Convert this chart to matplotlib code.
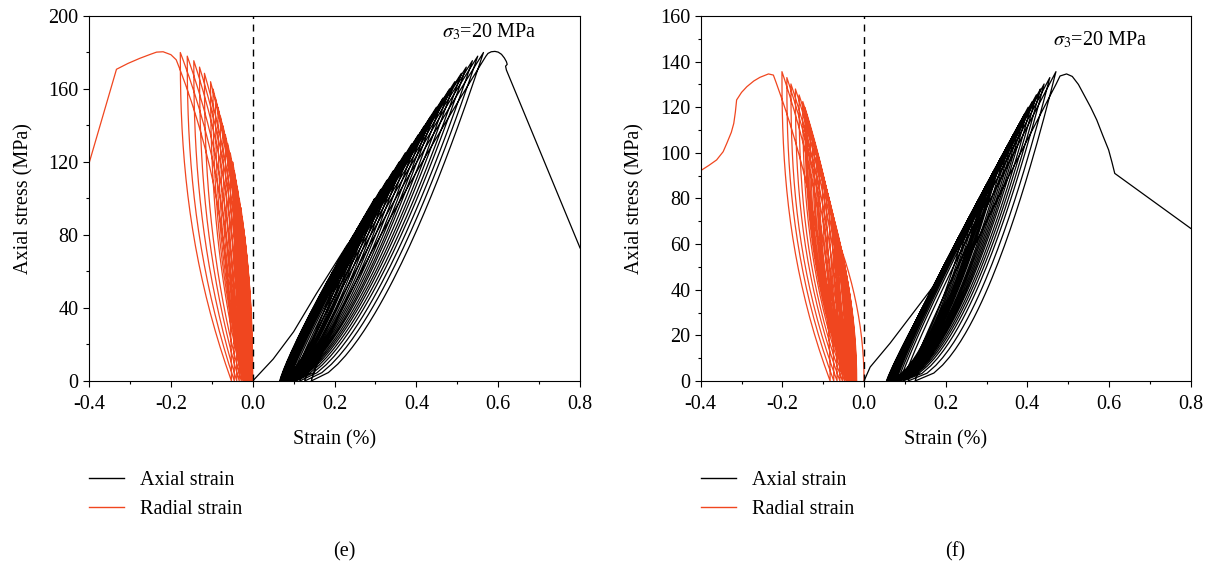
import numpy as np
import matplotlib
matplotlib.use("Agg")
import matplotlib.pyplot as plt
from matplotlib.lines import Line2D

plt.rcParams['font.family'] = ['Liberation Serif', 'DejaVu Serif']
plt.rcParams['mathtext.fontset'] = 'stix'
plt.rcParams['font.size'] = 14.5

RED = '#f0461f'

# ---------------- panel (e) ----------------
# peak of every cycle (stress, MPa)
peak_stress_e = [75, 80, 85, 90, 95, 100, 105, 110, 115, 120, 125, 130,
                 135, 140, 145, 150, 155, 160, 164, 168.6, 172, 175.5, 178, 180]
peak_axial_e = [0.232, 0.246, 0.260, 0.273, 0.286, 0.298, 0.313, 0.328, 0.343, 0.358,
                0.373, 0.389, 0.405, 0.420, 0.435, 0.449, 0.465, 0.481, 0.494, 0.510,
                0.522, 0.537, 0.550, 0.564]
resid_axial_e = [0.066, 0.067, 0.068, 0.069, 0.070, 0.071, 0.072, 0.073, 0.074, 0.075,
                 0.076, 0.077, 0.078, 0.080, 0.082, 0.084, 0.087, 0.090, 0.094, 0.099,
                 0.106, 0.115, 0.127, 0.143]
peak_radial_e = [-0.018, -0.020, -0.023, -0.026, -0.029, -0.033, -0.037, -0.041, -0.045,
                 -0.049, -0.055, -0.061, -0.067, -0.073, -0.079, -0.085, -0.091, -0.097,
                 -0.103, -0.118, -0.130, -0.144, -0.160, -0.177]
resid_radial_e = [-0.001, -0.002, -0.003, -0.004, -0.005, -0.006, -0.007, -0.008, -0.009,
                  -0.010, -0.011, -0.012, -0.013, -0.014, -0.015, -0.017, -0.019, -0.021,
                  -0.024, -0.028, -0.033, -0.039, -0.045, -0.052]
# first loading and post-peak curves
init_axial_e_x = [0.0, 0.05, 0.10, 0.156, 0.232]
init_axial_e_y = [0, 12, 27, 48, 75]
final_axial_e_x = [0.57, 0.575, 0.583, 0.592, 0.600, 0.608, 0.615, 0.620, 0.622, 0.618,
                   0.620, 0.8]
final_axial_e_y = [178, 179.5, 180.4, 180.6, 180.2, 179, 177, 175, 173.5, 172.5,
                   170.4, 72.9]
final_radial_e_x = [-0.187, -0.200, -0.219, -0.235, -0.25, -0.276, -0.305, -0.333, -0.4]
final_radial_e_y = [176, 178.8, 180.4, 180.2, 179, 176.8, 174, 170.8, 119.3]

# ---------------- panel (f) ----------------
peak_stress_f = [62, 66, 70, 74, 78, 82, 85, 88, 92, 95, 98, 102, 105, 108, 111,
                 114, 117, 120, 122.5, 125.4, 128, 130.2, 133, 135.6]
peak_axial_f = [0.240, 0.252, 0.263, 0.274, 0.285, 0.294, 0.302, 0.310, 0.320, 0.328,
                0.336, 0.348, 0.357, 0.366, 0.375, 0.384, 0.393, 0.402, 0.412, 0.422,
                0.432, 0.441, 0.455, 0.470]
resid_axial_f = [0.055, 0.056, 0.057, 0.058, 0.059, 0.060, 0.061, 0.062, 0.063, 0.064,
                 0.065, 0.066, 0.067, 0.068, 0.070, 0.072, 0.074, 0.076, 0.079, 0.083,
                 0.088, 0.096, 0.108, 0.125]
peak_radial_f = [-0.064, -0.069, -0.073, -0.078, -0.085, -0.092, -0.097, -0.102, -0.109,
                 -0.113, -0.117, -0.122, -0.126, -0.131, -0.135, -0.139, -0.142, -0.145,
                 -0.150, -0.159, -0.168, -0.179, -0.189, -0.201]
resid_radial_f = [-0.018, -0.019, -0.020, -0.021, -0.022, -0.023, -0.024, -0.025, -0.026,
                  -0.027, -0.028, -0.030, -0.032, -0.034, -0.036, -0.038, -0.041, -0.044,
                  -0.048, -0.053, -0.059, -0.066, -0.074, -0.083]
init_axial_f_x = [0.0, 0.015, 0.064, 0.194, 0.240]
init_axial_f_y = [0, 6.1, 16.6, 47.2, 62]
final_axial_f_x = [0.47, 0.48, 0.496, 0.51, 0.525, 0.537, 0.555, 0.57, 0.585, 0.599,
                   0.607, 0.614, 0.8]
final_axial_f_y = [130, 133.7, 134.6, 133.5, 130, 126, 120, 114.4, 107.5, 101.3,
                   96, 91, 66.9]
final_radial_f_x = [-0.222, -0.234, -0.255, -0.27, -0.287, -0.30, -0.312, -0.315,
                    -0.319, -0.325, -0.336, -0.345, -0.361, -0.38, -0.4]
final_radial_f_y = [134.1, 134.6, 133.1, 131.5, 129, 126.5, 123.2, 118, 112.9, 109,
                    104.2, 100.5, 96.9, 94.5, 92.2]


def axial_curve(peaks_s, peaks_x, resid, init_x, init_y, fin_x, fin_y, la, ua):
    s = np.linspace(0, 1, 40)
    xs, ys = list(init_x), list(init_y)
    for k in range(len(peaks_s)):
        p, r, sig = peaks_x[k], resid[k], peaks_s[k]
        down = s[::-1]
        xs += list(r + (p - r) * down ** ua)
        ys += list(sig * down)
        if k < len(peaks_s) - 1:
            p2, sig2 = peaks_x[k + 1], peaks_s[k + 1]
        else:
            p2, sig2 = fin_x[0], fin_y[0]
        xs += list(r + (p2 - r) * s ** la)
        ys += list(sig2 * s)
    xs += list(fin_x)
    ys += list(fin_y)
    return xs, ys


def radial_curve(peaks_s, peaks_x, resid, fin_x, fin_y, m, q):
    s = np.linspace(0, 1, 40)
    xs = list(peaks_x[0] * s ** m)
    ys = list(peaks_s[0] * s)
    for k in range(len(peaks_s)):
        p, r, sig = peaks_x[k], resid[k], peaks_s[k]
        down = s[::-1]
        xs += list(p + (r - p) * (1 - down) ** q)
        ys += list(sig * down)
        if k < len(peaks_s) - 1:
            p2, sig2 = peaks_x[k + 1], peaks_s[k + 1]
        else:
            p2, sig2 = fin_x[0], fin_y[0]
        xs += list(r + (p2 - r) * s ** m)
        ys += list(sig2 * s)
    xs += list(fin_x)
    ys += list(fin_y)
    return xs, ys


fig = plt.figure(figsize=(12.15, 5.65), dpi=100)
ax_e = fig.add_axes([0.0733, 0.3257, 0.4041, 0.646])
ax_f = fig.add_axes([0.5767, 0.3257, 0.4033, 0.646])

panels = [
    (ax_e, axial_curve(peak_stress_e, peak_axial_e, resid_axial_e, init_axial_e_x,
                       init_axial_e_y, final_axial_e_x, final_axial_e_y, 1.15, 0.63),
     radial_curve(peak_stress_e, peak_radial_e, resid_radial_e, final_radial_e_x,
                  final_radial_e_y, 2.3, 2.3),
     200, 40, 20, 191, '(e)'),
    (ax_f, axial_curve(peak_stress_f, peak_axial_f, resid_axial_f, init_axial_f_x,
                       init_axial_f_y, final_axial_f_x, final_axial_f_y, 1.1, 0.55),
     radial_curve(peak_stress_f, peak_radial_f, resid_radial_f, final_radial_f_x,
                  final_radial_f_y, 2.0, 2.4),
     160, 20, 10, 149.5, '(f)'),
]

for ax, ax_xy, rad_xy, ymax, ymaj, ymin, ytxt, tag in panels:
    ax.plot(ax_xy[0], ax_xy[1], color='black', lw=0.9)
    ax.plot(rad_xy[0], rad_xy[1], color=RED, lw=0.9)
    ax.axvline(0, color='black', lw=1, ls=(0, (5, 4)))
    ax.set_xlim(-0.4, 0.8)
    ax.set_ylim(0, ymax)
    ax.set_xticks(np.arange(-0.4, 0.81, 0.2))
    ax.set_xticklabels(['-0.4', '-0.2', '0.0', '0.2', '0.4', '0.6', '0.8'])
    ax.set_xticks(np.arange(-0.3, 0.8, 0.2), minor=True)
    ax.set_yticks(np.arange(0, ymax + 1, ymaj))
    ax.set_yticks(np.arange(ymin, ymax, ymaj), minor=True)
    ax.tick_params(which='major', direction='out', length=4, width=0.8, labelsize=14.5)
    ax.tick_params(axis='x', which='major', pad=6)
    ax.tick_params(which='minor', direction='out', length=2.5, width=0.8)
    for sp in ax.spines.values():
        sp.set_linewidth(0.8)
    ax.set_xlabel('Strain (%)', fontsize=14.5, labelpad=12)
    ax.set_ylabel('Axial stress (MPa)', fontsize=14.5, labelpad=11)
    ax.text(0.577, ytxt, r'$\sigma_3$=20 MPa', ha='center', va='center', fontsize=14.5)
    handles = [Line2D([], [], color='black', lw=1), Line2D([], [], color=RED, lw=1)]
    pos = ax.get_position()
    ax.legend(handles, ['Axial strain', 'Radial strain'], loc='upper left',
              bbox_to_anchor=(pos.x0, 0.166), bbox_transform=fig.transFigure,
              frameon=False, fontsize=14.5, handlelength=1.75, handletextpad=0.8,
              labelspacing=0.5, borderpad=0, borderaxespad=0)
    fig.text(pos.x0 + pos.width * 0.52, 0.024, tag, ha='center', va='center',
             fontsize=14.5)

fig.savefig('out.png', dpi=100)
